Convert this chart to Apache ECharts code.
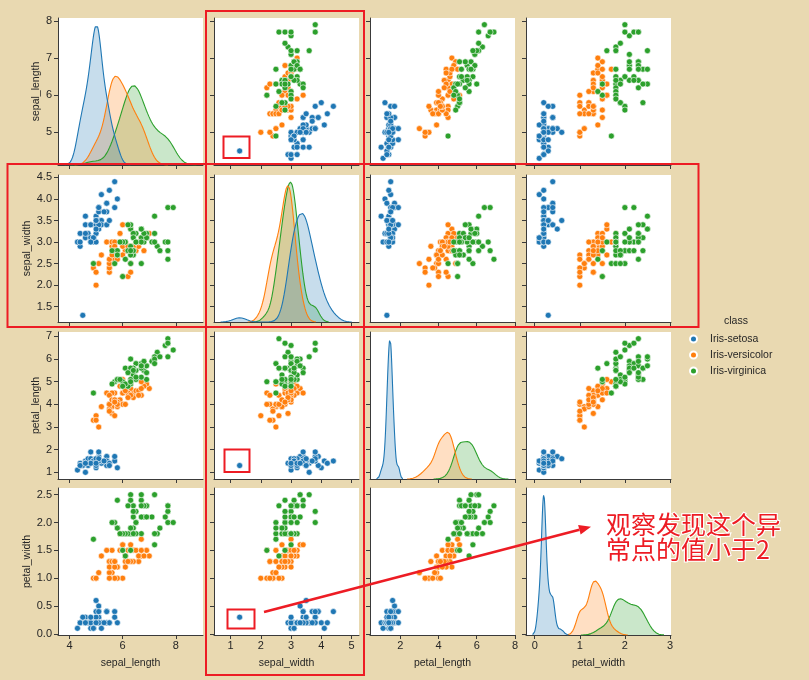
<!DOCTYPE html>
<html><head><meta charset="utf-8">
<script src="https://cdn.jsdelivr.net/npm/echarts@6/dist/echarts.min.js"></script>
<style>html,body{margin:0;padding:0;background:#e9d9b1;}#c{width:809px;height:680px;}</style>
</head><body><div id="c"></div>
<script>
// ---------------- data (iris, with one setosa outlier in sepal_width) ----------------
const classes = ['Iris-setosa', 'Iris-versicolor', 'Iris-virginica'];
const varNames = ['sepal_length', 'sepal_width', 'petal_length', 'petal_width'];

const setosaSepalLength = [5.1,4.9,4.7,4.6,5.0,5.4,4.6,5.0,4.4,4.9,5.4,4.8,4.8,4.3,5.8,5.7,5.4,5.1,5.7,5.1,5.4,5.1,4.6,5.1,4.8,5.0,5.0,5.2,5.2,4.7,4.8,5.4,5.2,5.5,4.9,5.0,5.5,4.9,4.4,5.1,5.0,4.5,4.4,5.0,5.1,4.8,5.1,4.6,5.3,5.0];
const setosaSepalWidth = [3.5,3.0,3.2,3.1,3.6,3.9,3.4,3.4,2.9,3.1,3.7,3.4,3.0,3.0,4.0,4.4,3.9,3.5,3.8,3.8,3.4,3.7,3.6,3.3,3.4,3.0,3.4,3.5,3.4,3.2,3.1,3.4,4.1,4.2,3.1,3.2,3.5,3.1,3.0,3.4,3.5,1.3,3.2,3.5,3.8,3.0,3.8,3.2,3.7,3.3];
const setosaPetalLength = [1.4,1.4,1.3,1.5,1.4,1.7,1.4,1.5,1.4,1.5,1.5,1.6,1.4,1.1,1.2,1.5,1.3,1.4,1.7,1.5,1.7,1.5,1.0,1.7,1.9,1.6,1.6,1.5,1.4,1.6,1.6,1.5,1.5,1.4,1.5,1.2,1.3,1.5,1.3,1.5,1.3,1.3,1.3,1.6,1.9,1.4,1.6,1.4,1.5,1.4];
const setosaPetalWidth = [0.2,0.2,0.2,0.2,0.2,0.4,0.3,0.2,0.2,0.1,0.2,0.2,0.1,0.1,0.2,0.4,0.4,0.3,0.3,0.3,0.2,0.4,0.2,0.5,0.2,0.2,0.4,0.2,0.2,0.2,0.2,0.4,0.1,0.2,0.1,0.2,0.2,0.1,0.2,0.2,0.3,0.3,0.2,0.6,0.4,0.3,0.2,0.2,0.2,0.2];

const versicolorSepalLength = [7.0,6.4,6.9,5.5,6.5,5.7,6.3,4.9,6.6,5.2,5.0,5.9,6.0,6.1,5.6,6.7,5.6,5.8,6.2,5.6,5.9,6.1,6.3,6.1,6.4,6.6,6.8,6.7,6.0,5.7,5.5,5.5,5.8,6.0,5.4,6.0,6.7,6.3,5.6,5.5,5.5,6.1,5.8,5.0,5.6,5.7,5.7,6.2,5.1,5.7];
const versicolorSepalWidth = [3.2,3.2,3.1,2.3,2.8,2.8,3.3,2.4,2.9,2.7,2.0,3.0,2.2,2.9,2.9,3.1,3.0,2.7,2.2,2.5,3.2,2.8,2.5,2.8,2.9,3.0,2.8,3.0,2.9,2.6,2.4,2.4,2.7,2.7,3.0,3.4,3.1,2.3,3.0,2.5,2.6,3.0,2.6,2.3,2.7,3.0,2.9,2.9,2.5,2.8];
const versicolorPetalLength = [4.7,4.5,4.9,4.0,4.6,4.5,4.7,3.3,4.6,3.9,3.5,4.2,4.0,4.7,3.6,4.4,4.5,4.1,4.5,3.9,4.8,4.0,4.9,4.7,4.3,4.4,4.8,5.0,4.5,3.5,3.8,3.7,3.9,5.1,4.5,4.5,4.7,4.4,4.1,4.0,4.4,4.6,4.0,3.3,4.2,4.2,4.2,4.3,3.0,4.1];
const versicolorPetalWidth = [1.4,1.5,1.5,1.3,1.5,1.3,1.6,1.0,1.3,1.4,1.0,1.5,1.0,1.4,1.3,1.4,1.5,1.0,1.5,1.1,1.8,1.3,1.5,1.2,1.3,1.4,1.4,1.7,1.5,1.0,1.1,1.0,1.2,1.6,1.5,1.6,1.5,1.3,1.3,1.3,1.2,1.4,1.2,1.0,1.3,1.2,1.3,1.3,1.1,1.3];

const virginicaSepalLength = [6.3,5.8,7.1,6.3,6.5,7.6,4.9,7.3,6.7,7.2,6.5,6.4,6.8,5.7,5.8,6.4,6.5,7.7,7.7,6.0,6.9,5.6,7.7,6.3,6.7,7.2,6.2,6.1,6.4,7.2,7.4,7.9,6.4,6.3,6.1,7.7,6.3,6.4,6.0,6.9,6.7,6.9,5.8,6.8,6.7,6.7,6.3,6.5,6.2,5.9];
const virginicaSepalWidth = [3.3,2.7,3.0,2.9,3.0,3.0,2.5,2.9,2.5,3.6,3.2,2.7,3.0,2.5,2.8,3.2,3.0,3.8,2.6,2.2,3.2,2.8,2.8,2.7,3.3,3.2,2.8,3.0,2.8,3.0,2.8,3.8,2.8,2.8,2.6,3.0,3.4,3.1,3.0,3.1,3.1,3.1,2.7,3.2,3.3,3.0,2.5,3.0,3.4,3.0];
const virginicaPetalLength = [6.0,5.1,5.9,5.6,5.8,6.6,4.5,6.3,5.8,6.1,5.1,5.3,5.5,5.0,5.1,5.3,5.5,6.7,6.9,5.0,5.7,4.9,6.7,4.9,5.7,6.0,4.8,4.9,5.6,5.8,6.1,6.4,5.6,5.1,5.6,6.1,5.6,5.5,4.8,5.4,5.6,5.1,5.1,5.9,5.7,5.2,5.0,5.2,5.4,5.1];
const virginicaPetalWidth = [2.5,1.9,2.1,1.8,2.2,2.1,1.7,1.8,1.8,2.5,2.0,1.9,2.1,2.0,2.4,2.3,1.8,2.2,2.3,1.5,2.3,2.0,2.0,1.8,2.1,1.8,1.8,1.8,2.1,1.6,1.9,2.0,2.2,1.5,1.4,2.3,2.4,1.8,1.8,2.1,2.4,2.3,1.9,2.3,2.5,2.3,1.9,2.0,2.3,1.8];

// tick values per variable (y for rows, x for columns)
const ticksSepalLength = [5, 6, 7, 8];
const ticksSepalWidth = [1.5, 2.0, 2.5, 3.0, 3.5, 4.0, 4.5];
const ticksPetalLength = [1, 2, 3, 4, 5, 6, 7];
const ticksPetalWidth = [0.0, 0.5, 1.0, 1.5, 2.0, 2.5];
const xTicksSepalLength = [4, 6, 8];
const xTicksSepalWidth = [1, 2, 3, 4, 5];
const xTicksPetalLength = [2, 4, 6, 8];
const xTicksPetalWidth = [0, 1, 2, 3];

// ---------------- styling / layout ----------------
const colors = ['#1f77b4', '#ff7f0e', '#2ca02c'];
const RED = '#ED1C24';
const FONT = '"Liberation Sans", Arial, sans-serif';
const TXT = '#262626';
const colLeft = [58, 214, 370, 526];
const rowTop = [18, 175, 332, 488];
const PW = 145, PH = 147;

const vars = [
  [setosaSepalLength, versicolorSepalLength, virginicaSepalLength],
  [setosaSepalWidth, versicolorSepalWidth, virginicaSepalWidth],
  [setosaPetalLength, versicolorPetalLength, virginicaPetalLength],
  [setosaPetalWidth, versicolorPetalWidth, virginicaPetalWidth]
];
const yTicks = [ticksSepalLength, ticksSepalWidth, ticksPetalLength, ticksPetalWidth];
const xTicks = [xTicksSepalLength, xTicksSepalWidth, xTicksPetalLength, xTicksPetalWidth];
const yDecimals = [0, 1, 0, 1];

// Gaussian KDE (Scott bandwidth, cut = 3, gridsize 200, common_norm weights) as seaborn does
function kde(vals, weight) {
  const n = vals.length;
  const mean = vals.reduce((a, b) => a + b, 0) / n;
  const sd = Math.sqrt(vals.reduce((a, b) => a + (b - mean) * (b - mean), 0) / (n - 1));
  const bw = sd * Math.pow(n, -0.2);
  const lo = Math.min(...vals) - 3 * bw, hi = Math.max(...vals) + 3 * bw;
  const pts = [];
  for (let i = 0; i < 200; i++) {
    const x = lo + (hi - lo) * i / 199;
    let s = 0;
    for (const v of vals) { const z = (x - v) / bw; s += Math.exp(-0.5 * z * z); }
    pts.push([x, weight * s / (n * bw * Math.sqrt(2 * Math.PI))]);
  }
  return { pts, lo, hi };
}

const total = vars[0].reduce((a, arr) => a + arr.length, 0);
const kdes = vars.map(v => v.map(arr => kde(arr, arr.length / total)));
const colRange = kdes.map(ks => {
  const lo = Math.min(...ks.map(k => k.lo)), hi = Math.max(...ks.map(k => k.hi));
  const p = 0.05 * (hi - lo);
  return [lo - p, hi + p];
});
const rowRange = vars.map(v => {
  const all = [].concat(...v);
  const lo = Math.min(...all), hi = Math.max(...all);
  const p = 0.05 * (hi - lo);
  return [lo - p, hi + p];
});
const kdeMax = kdes.map(ks => 1.05 * Math.max(...ks.map(k => Math.max(...k.pts.map(p => p[1])))));

const axisLineStyle = { color: '#3a3a3a', width: 1 };
const grids = [], xAxes = [], yAxes = [], scatterSeries = [], kdeSeries = [];
for (let r = 0; r < 4; r++) {
  for (let c = 0; c < 4; c++) {
    const g = r * 4 + c;
    grids.push({ left: colLeft[c], top: rowTop[r], width: PW, height: PH, show: true, backgroundColor: '#ffffff', borderWidth: 0 });
    xAxes.push({
      type: 'value', gridIndex: g, min: colRange[c][0], max: colRange[c][1],
      axisLine: { show: true, onZero: false, lineStyle: axisLineStyle },
      axisTick: { show: true, length: 4, customValues: xTicks[c], lineStyle: axisLineStyle },
      axisLabel: { show: r === 3, customValues: xTicks[c], margin: 5, fontSize: 11, color: TXT, fontFamily: FONT },
      splitLine: { show: false },
      name: r === 3 ? varNames[c] : '', nameLocation: 'middle', nameGap: 23,
      nameTextStyle: { fontSize: 10.5, color: TXT, fontFamily: FONT }
    });
    yAxes.push({
      type: 'value', gridIndex: g, min: rowRange[r][0], max: rowRange[r][1],
      axisLine: { show: true, onZero: false, lineStyle: axisLineStyle },
      axisTick: { show: true, length: 4, customValues: yTicks[r], lineStyle: axisLineStyle },
      axisLabel: { show: c === 0, customValues: yTicks[r], margin: 6, fontSize: 11, color: TXT, fontFamily: FONT,
        formatter: v => Number(v).toFixed(yDecimals[r]) },
      splitLine: { show: false },
      name: c === 0 ? varNames[r] : '', nameLocation: 'middle', nameGap: 15, nameRotate: 90,
      nameTextStyle: { fontSize: 10.5, color: TXT, fontFamily: FONT }
    });
    if (r !== c) {
      for (let k = 0; k < 3; k++) {
        scatterSeries.push({
          type: 'scatter', name: classes[k], xAxisIndex: g, yAxisIndex: g,
          data: vars[c][k].map((x, i) => [x, vars[r][k][i]]),
          symbolSize: 6,
          itemStyle: { color: colors[k], borderColor: '#ffffff', borderWidth: 0.6, opacity: 1 },
          emphasis: { disabled: true }, silent: true
        });
      }
    }
  }
}
// hidden density axes for the diagonal panels
for (let c = 0; c < 4; c++) {
  yAxes.push({ type: 'value', gridIndex: c * 4 + c, min: 0, max: kdeMax[c], show: false, splitLine: { show: false } });
}
for (let c = 0; c < 4; c++) {
  for (let k = 2; k >= 0; k--) {
    kdeSeries.push({
      type: 'line', name: classes[k], xAxisIndex: c * 4 + c, yAxisIndex: 16 + c,
      data: kdes[c][k].pts, showSymbol: false, symbol: 'none', smooth: false,
      lineStyle: { color: colors[k], width: 1.1 },
      itemStyle: { color: colors[k] },
      areaStyle: { color: colors[k], opacity: 0.25 },
      emphasis: { disabled: true }, silent: true
    });
  }
}

// arrow geometry (annotation)
const aStart = [264, 612], aTip = [591, 526.7];
const dx = aTip[0] - aStart[0], dy = aTip[1] - aStart[1];
const L = Math.hypot(dx, dy), ux = dx / L, uy = dy / L;
const hl = 12, hw = 5;
const bx = aTip[0] - ux * hl, by = aTip[1] - uy * hl;

const chart = echarts.init(document.getElementById('c'), null, { renderer: 'canvas' });
chart.setOption({
  backgroundColor: '#e9d9b1',
  animation: false,
  title: { text: 'class', left: 719, top: 311, textStyle: { fontSize: 10.5, fontWeight: 'normal', color: TXT, fontFamily: FONT } },
  legend: {
    data: classes.map(n => ({ name: n, icon: 'circle' })),
    orient: 'vertical', left: 684, top: 328, itemWidth: 23, itemHeight: 7, itemGap: 4,
    selectedMode: false,
    textStyle: { fontSize: 10.5, color: TXT, fontFamily: FONT, lineHeight: 12 }
  },
  grid: grids, xAxis: xAxes, yAxis: yAxes,
  series: scatterSeries.concat(kdeSeries),
  graphic: [
    { type: 'rect', z: 100, shape: { x: 206, y: 11, width: 158, height: 664 }, style: { fill: null, stroke: RED, lineWidth: 2 } },
    { type: 'rect', z: 100, shape: { x: 7.5, y: 164, width: 691, height: 163 }, style: { fill: null, stroke: RED, lineWidth: 2 } },
    { type: 'rect', z: 100, shape: { x: 223.5, y: 136.5, width: 26, height: 21.5 }, style: { fill: null, stroke: RED, lineWidth: 2 } },
    { type: 'rect', z: 100, shape: { x: 224.5, y: 449.5, width: 25, height: 22.5 }, style: { fill: null, stroke: RED, lineWidth: 2 } },
    { type: 'rect', z: 100, shape: { x: 227.5, y: 609.5, width: 27, height: 19 }, style: { fill: null, stroke: RED, lineWidth: 2 } },
    { type: 'line', z: 100, shape: { x1: aStart[0], y1: aStart[1], x2: bx, y2: by }, style: { stroke: RED, lineWidth: 2.6 } },
    { type: 'polygon', z: 100, shape: { points: [aTip, [bx - uy * hw, by + ux * hw], [bx + uy * hw, by - ux * hw]] }, style: { fill: RED } },
    { type: 'text', z: 101, x: 606, y: 512, style: { text: '观察发现这个异', fill: RED, stroke: '#ffffff', lineWidth: 2.2, strokeFirst: true,
      font: '25px "Noto Sans CJK SC", sans-serif', textVerticalAlign: 'top' } },
    { type: 'text', z: 101, x: 606, y: 537, style: { text: '常点的值小于2', fill: RED, stroke: '#ffffff', lineWidth: 2.2, strokeFirst: true,
      font: '25px "Noto Sans CJK SC", sans-serif', textVerticalAlign: 'top' } }
  ]
});
</script>
</body></html>
